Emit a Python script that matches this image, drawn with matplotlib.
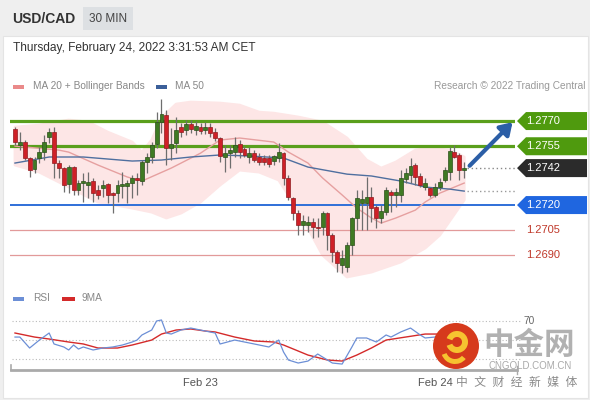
import matplotlib
matplotlib.use("Agg")
import matplotlib.pyplot as plt
import matplotlib.transforms as mtransforms
from matplotlib.patches import Polygon, Rectangle, Ellipse, Wedge
from matplotlib.lines import Line2D

plt.rcParams['font.family'] = ['Liberation Sans', 'Noto Sans CJK SC', 'DejaVu Sans']

# ---- data (USD/CAD, 30 min) ----
opens = [1.27652, 1.27557, 1.27575, 1.27480, 1.27414, 1.27480, 1.27515, 1.27605, 1.27634, 1.27450,
         1.27420, 1.27325, 1.27426, 1.27289, 1.27331, 1.27319, 1.27343, 1.27289, 1.27301, 1.27325,
         1.27271, 1.27271, 1.27313, 1.27313, 1.27331, 1.27361, 1.27343, 1.27456, 1.27486, 1.27563,
         1.27694, 1.27736, 1.27539, 1.27569, 1.27664, 1.27646, 1.27682, 1.27646, 1.27664, 1.27646,
         1.27664, 1.27634, 1.27599, 1.27486, 1.27509, 1.27515, 1.27563, 1.27533, 1.27486, 1.27509,
         1.27486, 1.27480, 1.27480, 1.27462, 1.27480, 1.27509, 1.27361, 1.27242, 1.27152, 1.27081,
         1.27081, 1.27099, 1.27069, 1.27069, 1.27152, 1.27021, 1.26920, 1.26843, 1.26831, 1.26962,
         1.27123, 1.27212, 1.27212, 1.27248, 1.27188, 1.27123, 1.27158, 1.27277, 1.27260, 1.27260,
         1.27355, 1.27379, 1.27438, 1.27373, 1.27307, 1.27301, 1.27260, 1.27307, 1.27349, 1.27396,
         1.27515, 1.27498, 1.27408]
highs = [1.27664, 1.27634, 1.27587, 1.27486, 1.27486, 1.27545, 1.27617, 1.27658, 1.27664, 1.27468,
         1.27426, 1.27438, 1.27432, 1.27349, 1.27390, 1.27396, 1.27361, 1.27319, 1.27349, 1.27331,
         1.27277, 1.27349, 1.27396, 1.27349, 1.27379, 1.27390, 1.27468, 1.27509, 1.27575, 1.27753,
         1.27831, 1.27765, 1.27658, 1.27724, 1.27688, 1.27706, 1.27706, 1.27700, 1.27688, 1.27694,
         1.27688, 1.27658, 1.27605, 1.27557, 1.27557, 1.27605, 1.27587, 1.27551, 1.27545, 1.27527,
         1.27509, 1.27498, 1.27498, 1.27498, 1.27569, 1.27515, 1.27379, 1.27248, 1.27170, 1.27140,
         1.27135, 1.27123, 1.27123, 1.27164, 1.27158, 1.27033, 1.26932, 1.26932, 1.26980, 1.27129,
         1.27289, 1.27289, 1.27367, 1.27307, 1.27200, 1.27200, 1.27307, 1.27289, 1.27301, 1.27408,
         1.27420, 1.27480, 1.27450, 1.27390, 1.27361, 1.27307, 1.27331, 1.27361, 1.27426, 1.27545,
         1.27557, 1.27509, 1.27456]
lows = [1.27557, 1.27527, 1.27468, 1.27367, 1.27390, 1.27450, 1.27468, 1.27569, 1.27361, 1.27361,
        1.27277, 1.27271, 1.27260, 1.27260, 1.27218, 1.27242, 1.27218, 1.27236, 1.27248, 1.27212,
        1.27152, 1.27218, 1.27242, 1.27212, 1.27242, 1.27260, 1.27319, 1.27390, 1.27450, 1.27539,
        1.27628, 1.27438, 1.27468, 1.27509, 1.27605, 1.27617, 1.27628, 1.27617, 1.27622, 1.27622,
        1.27605, 1.27581, 1.27456, 1.27396, 1.27420, 1.27486, 1.27480, 1.27486, 1.27450, 1.27456,
        1.27438, 1.27438, 1.27426, 1.27438, 1.27456, 1.27319, 1.27230, 1.27111, 1.27021, 1.27021,
        1.27039, 1.27004, 1.27010, 1.27021, 1.26932, 1.26861, 1.26801, 1.26795, 1.26801, 1.26902,
        1.27051, 1.27051, 1.27051, 1.27099, 1.27063, 1.27093, 1.27140, 1.27158, 1.27188, 1.27218,
        1.27331, 1.27331, 1.27319, 1.27307, 1.27289, 1.27248, 1.27248, 1.27289, 1.27337, 1.27349,
        1.27480, 1.27349, 1.27361]
closes = [1.27575, 1.27575, 1.27480, 1.27408, 1.27468, 1.27515, 1.27575, 1.27634, 1.27450, 1.27420,
          1.27319, 1.27426, 1.27289, 1.27331, 1.27343, 1.27337, 1.27271, 1.27260, 1.27319, 1.27260,
          1.27260, 1.27319, 1.27325, 1.27331, 1.27361, 1.27349, 1.27456, 1.27486, 1.27557, 1.27694,
          1.27741, 1.27539, 1.27563, 1.27646, 1.27634, 1.27682, 1.27652, 1.27670, 1.27640, 1.27664,
          1.27628, 1.27599, 1.27492, 1.27509, 1.27527, 1.27557, 1.27515, 1.27498, 1.27509, 1.27468,
          1.27456, 1.27456, 1.27444, 1.27492, 1.27515, 1.27361, 1.27248, 1.27152, 1.27081, 1.27105,
          1.27099, 1.27069, 1.27063, 1.27152, 1.27021, 1.26920, 1.26855, 1.26885, 1.26962, 1.27123,
          1.27242, 1.27236, 1.27248, 1.27182, 1.27123, 1.27164, 1.27289, 1.27260, 1.27277, 1.27361,
          1.27390, 1.27432, 1.27367, 1.27319, 1.27331, 1.27260, 1.27307, 1.27337, 1.27408, 1.27521,
          1.27486, 1.27408, 1.27420]

ma50_idx = [0, 7, 14, 24, 30, 36, 42, 48, 55, 60, 68, 73, 79, 84, 89, 92]
ma50 = [1.27450, 1.27486, 1.27486, 1.27462, 1.27468, 1.27486, 1.27498, 1.27492,
        1.27480, 1.27426, 1.27384, 1.27373, 1.27343, 1.27307, 1.27295, 1.27283]

ma20_idx = [0, 9, 11, 17, 23, 26, 32, 38, 42, 46, 53, 56, 60, 63, 67, 70, 73, 75,
            78, 82, 84, 87, 90, 92]
ma20 = [1.27551, 1.27527, 1.27515, 1.27438, 1.27367, 1.27343, 1.27420, 1.27509,
        1.27587, 1.27599, 1.27575, 1.27515, 1.27450, 1.27361, 1.27260, 1.27182,
        1.27123, 1.27093, 1.27123, 1.27170, 1.27218, 1.27271, 1.27307, 1.27331]

bb_up_idx = [0, 5, 11, 15, 19, 24, 26, 28, 30, 33, 36, 42, 46, 50, 53, 58, 63, 68,
             72, 75, 78, 82, 85, 89, 92]
bb_up = [1.27664, 1.27676, 1.27706, 1.27694, 1.27634, 1.27575, 1.27515, 1.27587,
         1.27718, 1.27801, 1.27813, 1.27807, 1.27795, 1.27753, 1.27747, 1.27724,
         1.27694, 1.27599, 1.27468, 1.27420, 1.27456, 1.27527, 1.27539, 1.27527, 1.27486]
bb_lo_idx = [0, 5, 9, 17, 24, 28, 31, 34, 38, 42, 46, 50, 54, 58, 63, 68, 73, 79,
             84, 87, 92]
bb_lo = [1.27438, 1.27396, 1.27337, 1.27218, 1.27182, 1.27158, 1.27123, 1.27152,
         1.27218, 1.27319, 1.27408, 1.27396, 1.27349, 1.27170, 1.26902, 1.26772,
         1.26801, 1.26861, 1.26944, 1.27021, 1.27230]

rsi_idx = [0, 1, 3, 5, 7, 8, 10, 11, 12, 13, 14, 16, 18, 20, 22, 24, 25, 26, 28, 29,
           30, 31, 32, 34, 36, 39, 41, 42, 45, 47, 49, 52, 54, 55, 56, 58, 60, 62, 63,
           65, 67, 69, 70, 72, 74, 76, 77, 79, 81, 83, 84, 86, 89, 90, 92]
rsi = [52.9, 52.9, 41.2, 49.7, 57.2, 45.5, 42.3, 39.1, 44.4, 40.1, 42.3, 39.1, 41.2,
       42.3, 44.4, 47.6, 49.7, 55.1, 60.4, 70.0, 71.1, 57.2, 56.1, 60.4, 62.5, 59.3,
       57.2, 45.5, 49.7, 47.6, 45.5, 42.3, 49.7, 36.9, 28.4, 25.2, 27.3, 34.8, 31.6,
       25.2, 24.1, 42.3, 51.9, 51.9, 47.6, 55.1, 52.9, 58.3, 62.5, 55.1, 51.9, 52.9,
       62.5, 60.4, 56.1]
rsi_ma_idx = [0, 4, 7, 11, 14, 17, 21, 24, 28, 30, 33, 36, 39, 41, 45, 49, 53, 55,
              58, 60, 64, 67, 70, 73, 76, 80, 84, 87, 92]
rsi_ma = [57.2, 52.9, 50.8, 47.6, 45.5, 41.2, 41.2, 44.4, 49.7, 56.1, 60.4, 61.5,
          59.3, 58.3, 52.9, 48.7, 47.6, 44.4, 38.0, 33.7, 28.4, 27.3, 33.7, 41.2,
          49.7, 52.9, 56.1, 56.1, 56.1]

levels = [1.2770, 1.2755, 1.2742, 1.2720, 1.2705, 1.2690]
level_labels = ["1.2770", "1.2755", "1.2742", "1.2720", "1.2705", "1.2690"]
date_ticks = [38, 86]
date_labels = ["Feb 23", "Feb 24"]
last_price = 1.2742
target = 1.2770

W, H = 590, 400
fig = plt.figure(figsize=(W / 100, H / 100), dpi=100)
fig.patch.set_facecolor('#efefef')

def fx(px):
    return px / W

def fy(py):
    return 1 - py / H

# white content panel
fig.add_artist(Rectangle((fx(3), fy(398)), fx(585), 362 / H, transform=fig.transFigure,
                         facecolor='white', edgecolor='#e4e4e4', lw=0.8, zorder=0))

# header
fig.text(fx(12), fy(19), "USD/CAD", fontsize=10, fontweight='bold', color='#333333', va='center')
fig.add_artist(Rectangle((fx(83), fy(30)), fx(50), 23 / H, transform=fig.transFigure,
                         facecolor='#dde0e3', edgecolor='none', zorder=1))
fig.text(fx(108), fy(19), "30 MIN", fontsize=8.5, color='#444444', va='center', ha='center')
fig.text(fx(13), fy(48), "Thursday, February 24, 2022 3:31:53 AM CET", fontsize=8.6,
         color='#333333', va='center')

# legend row
fig.add_artist(Rectangle((fx(13), fy(88.5)), fx(11), 4 / H, transform=fig.transFigure,
                         facecolor='#ea8a8a', edgecolor='none'))
fig.text(fx(33), fy(86), "MA 20 + Bollinger Bands", fontsize=7.3, color='#888888', va='center')
fig.add_artist(Rectangle((fx(156), fy(88.5)), fx(11), 4 / H, transform=fig.transFigure,
                         facecolor='#3b5f99', edgecolor='none'))
fig.text(fx(175), fy(86), "MA 50", fontsize=7.3, color='#888888', va='center')
fig.text(fx(585), fy(86), "Research \u00a9 2022 Trading Central", fontsize=7.3,
         color='#999999', va='center', ha='right')

# ---- main price axes ----
ax = fig.add_axes([fx(10), fy(280), fx(505), 185 / H])
ax.set_xlim(-1.02, 102.4)
ax.set_ylim(1.26754, 1.27855)
ax.axis('off')

band_pts = list(zip(bb_up_idx, bb_up)) + list(zip(bb_lo_idx, bb_lo))[::-1]
ax.add_patch(Polygon(band_pts, closed=True, facecolor='#fde6e6', edgecolor='#fde6e6',
                     lw=2, joinstyle='round', zorder=1))

# support / resistance lines
ax.axhline(levels[0], color='#5a9f1c', lw=2.3, zorder=2)
ax.axhline(levels[1], color='#5a9f1c', lw=2.3, zorder=2)
ax.axhline(levels[3], color='#2f6fd8', lw=1.4, zorder=2)
ax.axhline(levels[4], color='#e29a9a', lw=0.9, zorder=2)
ax.axhline(levels[5], color='#e29a9a', lw=0.9, zorder=2)

ax.plot(ma20_idx, ma20, color='#e6a0a0', lw=1.0, zorder=3)
ax.plot(ma50_idx, ma50, color='#4f6f9f', lw=1.0, zorder=3)

# candles
for i in range(len(opens)):
    o, h, l, c = opens[i], highs[i], lows[i], closes[i]
    up = c >= o
    ax.plot([i, i], [l, h], color='#6e6e6e', lw=0.9, zorder=4, solid_capstyle='butt')
    bottom = min(o, c)
    height = max(abs(c - o), 0.00004)
    ax.add_patch(Rectangle((i - 0.4, bottom), 0.8, height, zorder=5,
                           facecolor='#3f7a23' if up else '#cf2027',
                           edgecolor='#2c4f1a' if up else '#8f1c20', lw=0.5))

# dotted guides to the price labels
last = len(closes) - 1
ax.plot([last + 0.5, 102.4], [last_price, last_price], color='#888888', lw=1, ls=(0, (1, 2)),
        clip_on=False, zorder=3)
ax.plot([ma50_idx[-1] + 0.5, 102.4], [ma50[-1], ma50[-1]], color='#999999', lw=1,
        ls=(0, (1, 2)), clip_on=False, zorder=3)

# forecast arrow
ax.annotate("", xy=(102.3, target + 0.00005), xytext=(last + 0.7, last_price + 0.00002),
            arrowprops=dict(arrowstyle='-|>,head_length=0.7,head_width=0.45', color='#2b5ea6',
                            lw=3), annotation_clip=False, zorder=6)

# price tags on the right
trans = mtransforms.blended_transform_factory(ax.transAxes, ax.transData)
ppx = (1.27855 - 1.26754) / 185
hh = 9 * ppx
tag_colors = ['#4f9a0e', '#4f9a0e', '#2b2b2b', '#1f66e0', None, None]
for lv, lab, col in zip(levels, level_labels, tag_colors):
    if col is None:
        ax.text(1.0218, lv, lab, transform=trans, fontsize=8, color='#c0392b',
                va='center', ha='left', clip_on=False)
        continue
    pts = [(1.004, lv), (1.0218, lv + hh), (1.1426, lv + hh), (1.1426, lv - hh), (1.0218, lv - hh)]
    ax.add_patch(Polygon(pts, closed=True, transform=trans, facecolor=col, edgecolor='none',
                         clip_on=False, zorder=6))
    ax.text(1.0218, lv, lab, transform=trans, fontsize=8, color='white',
            va='center', ha='left', clip_on=False, zorder=7)

# ---- RSI panel ----
fig.add_artist(Rectangle((fx(13), fy(300.5)), fx(11), 4 / H, transform=fig.transFigure,
                         facecolor='#6c8fd6', edgecolor='none'))
fig.text(fx(33), fy(298), "RSI", fontsize=7.3, color='#888888', va='center')
fig.add_artist(Rectangle((fx(62), fy(300.5)), fx(13), 4 / H, transform=fig.transFigure,
                         facecolor='#d42a2a', edgecolor='none'))
fig.text(fx(82), fy(298), "9MA", fontsize=7.3, color='#888888', va='center')

ax2 = fig.add_axes([fx(10), fy(368), fx(505), 56 / H])
ax2.set_xlim(-1.02, 102.4)
ax2.set_ylim(19.9, 79.6)
ax2.axis('off')
for lv in (70, 50, 30):
    ax2.plot([-0.6, 103.5], [lv, lv], color='#bbbbbb', lw=0.8, ls=(0, (1, 2)), clip_on=False)
ax2.plot(rsi_ma_idx, rsi_ma, color='#d42a2a', lw=1.0)
ax2.plot(rsi_idx, rsi, color='#6c8fd6', lw=0.9)
ax2.text(104.2, 70, "70", fontsize=7.3, color='#666666', va='center', ha='left', clip_on=False)

# time axis
fig.add_artist(Line2D([fx(11), fx(517)], [fy(370), fy(370)], transform=fig.transFigure,
                      color='#aaaaaa', lw=2))
fig.add_artist(Line2D([fx(11), fx(11)], [fy(365), fy(370)], transform=fig.transFigure,
                      color='#aaaaaa', lw=1.2))
fig.add_artist(Line2D([fx(517), fx(517)], [fy(366), fy(374)], transform=fig.transFigure,
                      color='#aaaaaa', lw=1.0))
tt = mtransforms.blended_transform_factory(ax2.transData, fig.transFigure)
for t, lab in zip(date_ticks, date_labels):
    ax2.text(t, fy(383), lab, transform=tt, fontsize=8, color='#555555', ha='center',
             va='center', clip_on=False)

# watermark of the republishing site
fig.add_artist(Ellipse((fx(456), fy(346)), 46 / W, 46 / H, transform=fig.transFigure,
                       facecolor='#d63a1c', edgecolor='none', zorder=8))
fig.add_artist(Wedge((457, H - 342), 11, 200, 520, width=6, transform=None,
                     facecolor='#f6c330', edgecolor='none', zorder=9))
fig.add_artist(Wedge((455, H - 350), 14, 200, 320, width=5, transform=None,
                     facecolor='#f6c330', edgecolor='none', zorder=9))
fig.text(fx(529), fy(346), "中金网", fontsize=22, fontweight='bold', color='#a9a9a9',
         ha='center', va='center', zorder=8, alpha=0.9)
fig.text(fx(530), fy(366), "CNGOLD.COM.CN", fontsize=7, color='#a9a9a9', ha='center',
         va='center', zorder=8)
fig.text(fx(577), fy(383), "中  文  财  经  新  媒  体", fontsize=8.5, color='#8a8a8a',
         ha='right', va='center', zorder=8)

fig.savefig("out.png", dpi=100, facecolor=fig.get_facecolor())
